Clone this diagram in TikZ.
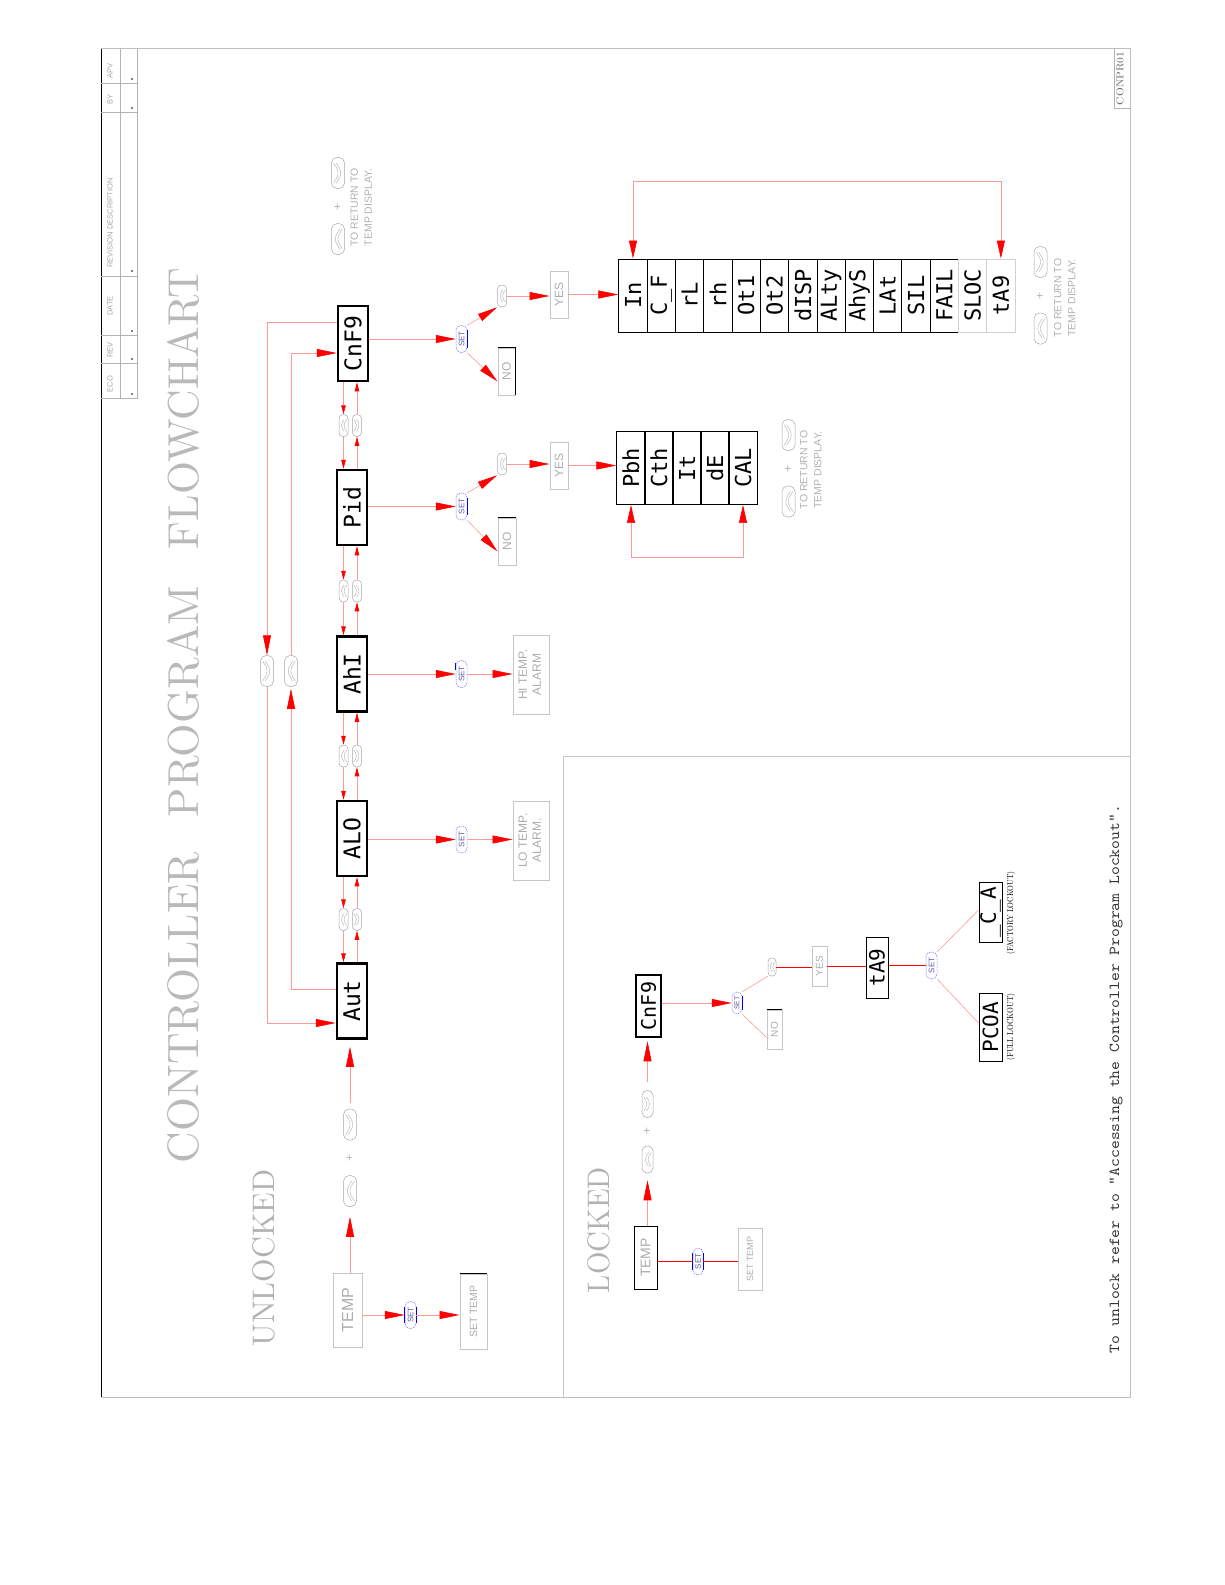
\documentclass[tikz,border=0pt]{standalone}
\usepackage{fontspec}
\usepackage{graphicx}
\usetikzlibrary{arrows.meta}
\newfontfamily\segfont{DejaVu Sans Mono}
\newfontfamily\labfont{Liberation Sans}
\newfontfamily\ttfoot{Latin Modern Mono}
\newcommand\rtxt[1]{\rotatebox{90}{#1}}
\newcommand\rtwo[2]{\rotatebox{90}{\begin{tabular}{@{}c@{}}#1\\#2\end{tabular}}}
\tikzset{
 conn/.style={draw=red!40, line width=0.6pt},
 connS/.style={draw=red, line width=0.8pt},
 arrB/.style={-{Triangle[length=20pt,width=8pt,color=red]}},
 arrBB/.style={{Triangle[length=18pt,width=8pt,color=red]}-{Triangle[length=18pt,width=8pt,color=red]}},
 arrS/.style={-{Triangle[length=9pt,width=4.5pt,color=red]}},
 disp/.style={draw=black, line width=2.5pt, inner sep=0pt, minimum width=30pt, minimum height=75pt, font=\segfont\fontsize{23}{23}\selectfont},
 cell/.style={draw=black, line width=0.9pt, inner sep=0pt, minimum width=28.3pt, minimum height=73pt, font=\segfont\fontsize{22}{22}\selectfont},
 gbox/.style={draw=gray!45, line width=0.9pt, inner sep=0pt, text=gray!65, font=\labfont\fontsize{12}{14}\selectfont},
 btn/.style={draw=gray!70, line width=0.5pt, rounded corners=4pt, inner sep=0pt, minimum width=9pt, minimum height=22pt},
 btnBig/.style={btn, minimum width=13pt, minimum height=31pt, rounded corners=5.5pt},
 setb/.style={draw=blue!55, dash pattern=on 1.2pt off 0.8pt, line width=0.5pt, rounded corners=5pt, inner sep=0pt, minimum width=11pt, minimum height=27pt, text=blue!30!gray, font=\labfont\fontsize{8}{8}\selectfont},
 chevL/.style n args={2}{path picture={\foreach \cho in {-1.3,1.3}{\draw[gray!70,line width=0.35pt] ([xshift=\cho pt+#2,yshift=#1]path picture bounding box.center) -- ([xshift=\cho pt-#2]path picture bounding box.center) -- ([xshift=\cho pt+#2,yshift=-#1]path picture bounding box.center);}}},
 chevR/.style n args={2}{path picture={\foreach \cho in {-1.3,1.3}{\draw[gray!70,line width=0.35pt] ([xshift=\cho pt-#2,yshift=#1]path picture bounding box.center) -- ([xshift=\cho pt+#2]path picture bounding box.center) -- ([xshift=\cho pt-#2,yshift=-#1]path picture bounding box.center);}}},
 rettext/.style={inner sep=0pt, text=gray!60, font=\labfont\fontsize{10.5}{14}\selectfont},
 plus/.style={inner sep=0pt, text=gray!60, font=\labfont\fontsize{12}{12}\selectfont},
 tblab/.style={inner sep=0pt, text=gray!70, font=\labfont\fontsize{7.5}{7.5}\selectfont},
}
\begin{document}
\begin{tikzpicture}[x=1pt,y=-1pt]
\useasboundingbox (0,0) rectangle (1225,1585);
% frame
\draw[gray!50, line width=0.7pt] (101,48.5) rectangle (1130,1397);
\draw[black, line width=0.9pt] (101,48.5) -- (101,1397);
\draw[gray!45, line width=0.7pt] (1130,756) -- (563,756) -- (563,1397);
% title block
\draw[gray!60, line width=0.5pt] (120,48.5) -- (120,398);
\draw[gray!60, line width=0.5pt] (137,48.5) -- (137,398) -- (101,398);
\foreach \y in {83,112,276,335,363} \draw[gray!60, line width=0.5pt] (101,\y) -- (137,\y);
\foreach \t/\y [count=\i] in {APV/71, BY/99, REVISION DESCRIPTION/223, DATE/306, REV/350, ECO/384}
  \node[tblab] (tb\i) at (110,\y) {\rtxt{\t}};
\foreach \y in {79,108,271,331,359,394} \fill (132,\y) circle (0.8);
% drawing number
\draw[gray!60, line width=0.5pt] (1114,48.5) -- (1114,108) -- (1130,108);
\node[inner sep=0pt, text=gray!80!black] (dwg) at (1120,78.5) {\rtxt{\resizebox{53pt}{7pt}{CONPR01}}};
% titles
\node[inner sep=0pt, text=gray!55] (t1) at (183,1007.5) {\rtxt{\resizebox{311pt}{31pt}{CONTROLLER}}};
\node[inner sep=0pt, text=gray!55] (t2) at (183,701.5) {\rtxt{\resizebox{231pt}{31pt}{PROGRAM}}};
\node[inner sep=0pt, text=gray!55] (t3) at (183,408.5) {\rtxt{\resizebox{281pt}{31pt}{FLOWCHART}}};
\node[inner sep=0pt, text=gray!60] (unl) at (264,1258) {\rtxt{\resizebox{177pt}{22pt}{UNLOCKED}}};
\node[inner sep=0pt, text=gray!60] (lck) at (599,1230) {\rtxt{\resizebox{126pt}{22pt}{LOCKED}}};
\node[inner sep=0pt, text=black!80] (foot) at (1116,1079) {\rtxt{\resizebox{548pt}{9.5pt}{\ttfoot To unlock refer to "Accessing the Controller Program Lockout".}}};

% ===== UNLOCKED =====
\node[gbox, minimum width=29pt, minimum height=74pt, font=\labfont\fontsize{16}{16}\selectfont] (tempU) at (347.5,1310) {\rtxt{TEMP}};
\node[setb] (setU) at (410.5,1315) {\rtxt{SET}};
\node[gbox, minimum width=27pt, minimum height=75pt, font=\labfont\fontsize{10.5}{10.5}\selectfont] (settU) at (473.5,1311.5) {\rtxt{SET TEMP}};
\draw[black, line width=0.9pt] (settU.north west) -- (settU.north east);
\draw[blue, line width=0.8pt] ([yshift=-6pt]setU.north west) -- ([yshift=6pt]setU.south west);
\draw[blue, line width=0.8pt] ([yshift=-6pt]setU.north east) -- ([yshift=6pt]setU.south east);
\draw[conn,arrB] (tempU.east |- setU.west) -- (setU.west);
\draw[conn,arrB] (setU.east) -- (settU.west |- setU.east);

\node[btnBig, chevL={10pt}{3pt}] (upU) at (350,1191) {};
\node[plus] (plusU) at (350,1158) {\rtxt{+}};
\node[btnBig, chevR={10pt}{3pt}] (dnU) at (350,1124.5) {};
\draw[conn,arrB,shorten >=10pt] (upU |- tempU.north) -- (upU.south);

\node[disp] (aut) at (352,1001) {\rtxt{Aut}};
\node[disp] (alo) at (352,838.5) {\rtxt{ALO}};
\node[disp] (ahi) at (352,674) {\rtxt{AhI}};
\node[disp] (pid) at (352,507.5) {\rtxt{Pid}};
\node[disp] (cnf) at (353,343.5) {\rtxt{CnF9}};
\draw[conn,arrB,shorten <=6pt,shorten >=7pt] (dnU.north) -- (dnU |- aut.south);

\foreach \u/\l/\m/\i in {cnf/pid/425.5/1, pid/ahi/591/2, ahi/alo/756/3, alo/aut/919.5/4} {
  \node[btn, chevL={6pt}{2pt}] (cbL\i) at (343.5,\m) {};
  \node[btn, chevR={6pt}{2pt}] (cbR\i) at (357,\m) {};
  \draw[conn,arrS] (\u.south -| cbL\i) -- (cbL\i.north);
  \draw[conn,arrS] (cbL\i.south) -- (\l.north -| cbL\i);
  \draw[conn,arrS] (\l.north -| cbR\i) -- (cbR\i.south);
  \draw[conn,arrS] (cbR\i.north) -- (\u.south -| cbR\i);
}

% loop back
\node[btnBig, chevR={10pt}{3pt}] (lbA) at (267,671) {};
\node[btnBig, chevL={10pt}{3pt}] (lbB) at (291,671) {};
\draw[conn,arrB] ([yshift=21.5pt]cnf.west) -| (lbA.north);
\draw[conn,arrB] (lbA.south) |- ([yshift=-22pt]aut.west);
\draw[conn,arrB,shorten >=2pt] ([yshift=12pt]aut.west) -| (lbB.south);
\draw[conn,arrB] (lbB.north) |- ([yshift=-9.5pt]cnf.west);

% alarms
\node[setb] (setAlo) at (461.5,839.5) {\rtxt{SET}};
\node[setb] (setAhi) at (461.5,674) {\rtxt{SET}};
\draw[blue, line width=0.8pt] ([yshift=-3pt]setAhi.north west) -- ([yshift=-10pt]setAhi.north west);
\node[gbox, minimum width=36pt, minimum height=79pt] (loA) at (531,840.5) {\rtwo{LO TEMP.}{ALARM.}};
\node[gbox, minimum width=36pt, minimum height=79pt] (hiA) at (531,674.5) {\rtwo{HI TEMP.}{ALARM}};
\draw[conn,arrB] (alo.east |- setAlo.west) -- (setAlo.west);
\draw[conn,arrB] (setAlo.east) -- (loA.west |- setAlo.east);
\draw[conn,arrB] (ahi.east |- setAhi.west) -- (setAhi.west);
\draw[conn,arrB] (setAhi.east) -- (hiA.west |- setAhi.east);

% Pid branch
\node[setb] (setPid) at (461.5,506.5) {\rtxt{SET}};
\draw[blue, line width=0.8pt] ([yshift=-5pt]setPid.north east) -- ([yshift=5pt]setPid.south east);
\node[btn, chevL={6pt}{2pt}] (pbtn) at (502,464) {};
\node[gbox, minimum width=18pt, minimum height=47pt] (pno) at (507,541.5) {\rtxt{NO}};
\draw[black, line width=0.9pt] (pno.north west) -- (pno.north east);
\node[gbox, minimum width=18pt, minimum height=47pt] (pyes) at (559,465.5) {\rtxt{YES}};
\draw[conn,arrB] (pid.east |- setPid.west) -- (setPid.west);
\draw[conn,arrB] (setPid.north east) -- (pbtn.south west);
\draw[conn,arrB] (setPid.south east) -- ([yshift=-10pt]pno.west);
\draw[conn,arrB] (pbtn.east) -- (pyes.west |- pbtn.east);
\foreach \t [count=\i] in {Pbh,Cth,It,dE,CAL}
  \node[cell] (pc\i) at ({631+28*(\i-1)},468) {\rtxt{\t}};
\draw[conn,arrB] (pyes.east) -- (pc1.west |- pyes.east);
\draw[conn,arrBB] (pc1.south) -- ++(0,52) -| (pc5.south);
\node[btnBig, chevR={10pt}{3pt}] (r2d) at (788.5,435) {};
\node[plus] (r2p) at (788.5,469) {\rtxt{+}};
\node[btnBig, chevL={10pt}{3pt}] (r2u) at (788.5,501.5) {};
\node[rettext] (r2t) at (811.5,470) {\rtwo{TO RETURN TO}{TEMP DISPLAY.}};

% CnF9 branch
\node[setb] (setCnf) at (461.5,339) {\rtxt{SET}};
\draw[blue, line width=0.8pt] ([yshift=-5pt]setCnf.north east) -- ([yshift=5pt]setCnf.south east);
\node[btn, chevL={6pt}{2pt}] (cbtn) at (502,296) {};
\node[gbox, minimum width=17pt, minimum height=47pt] (cno) at (506.5,371.5) {\rtxt{NO}};
\draw[black, line width=0.9pt] (cno.north west) -- (cno.north east) -- (cno.south east);
\node[gbox, minimum width=18pt, minimum height=47pt] (cyes) at (559,294.5) {\rtxt{YES}};
\draw[conn,arrB] (cnf.east |- setCnf.west) -- (setCnf.west);
\draw[conn,arrB] (setCnf.north east) -- (cbtn.south west);
\draw[conn,arrB] (setCnf.south east) -- ([yshift=-10pt]cno.west);
\draw[conn,arrB] (cbtn.east) -- (cyes.west |- cbtn.east);
\foreach \t [count=\i] in {In,C\_F,rL,rh,Ot1,Ot2,dISP,ALty,AhyS,LAt,SIL,FAIL}
  \node[cell] (cc\i) at ({633+28.3*(\i-1)},295.5) {\rtxt{\t}};
\node[cell, draw=gray!35] (cc13) at (972.6,295.5) {\rtxt{SLOC}};
\node[cell, draw=gray!35] (cc14) at (1000.9,295.5) {\rtxt{tA9}};
\draw[conn,arrB] (cyes.east) -- (cc1.west |- cyes.east);
\draw[conn,arrBB] (cc1.north) -- ++(0,-77) -| (cc14.north);
\node[btnBig, chevR={10pt}{3pt}] (r3d) at (1040.5,262) {};
\node[plus] (r3p) at (1040.5,296) {\rtxt{+}};
\node[btnBig, chevL={10pt}{3pt}] (r3u) at (1040.5,328.5) {};
\node[rettext] (r3t) at (1065.5,298) {\rtwo{TO RETURN TO}{TEMP DISPLAY.}};

% top return note
\node[btnBig, chevR={10pt}{3pt}] (r1d) at (338,173) {};
\node[plus] (r1p) at (338,207) {\rtxt{+}};
\node[btnBig, chevL={10pt}{3pt}] (r1u) at (338,239) {};
\node[rettext] (r1t) at (362,207.5) {\rtwo{TO RETURN TO}{TEMP DISPLAY.}};

% ===== LOCKED =====
\node[gbox, draw=black, minimum width=23pt, minimum height=63pt, font=\labfont\fontsize{14}{14}\selectfont] (tempL) at (645.5,1257.5) {\rtxt{TEMP}};
\node[setb, minimum width=10pt, minimum height=27pt] (setL1) at (698,1261.5) {\rtxt{SET}};
\draw[blue, line width=0.8pt] ([yshift=-5pt]setL1.north west) -- ([yshift=5pt]setL1.south west);
\draw[blue, line width=0.8pt] ([yshift=-5pt]setL1.north east) -- ([yshift=5pt]setL1.south east);
\node[gbox, minimum width=24pt, minimum height=62pt, font=\labfont\fontsize{9}{9}\selectfont] (settL) at (750,1259) {\rtxt{SET TEMP}};
\draw[connS] (tempL.east |- setL1.west) -- (setL1.west);
\draw[connS] (setL1.east) -- (settL.west |- setL1.east);
\node[btn, minimum width=11pt, minimum height=27pt, rounded corners=5pt, chevL={7pt}{2.5pt}] (upL) at (647.5,1159.5) {};
\node[plus] (plusL) at (647.5,1131) {\rtxt{+}};
\node[btn, minimum width=11pt, minimum height=27pt, rounded corners=5pt, chevR={7pt}{2.5pt}] (dnL) at (647.5,1104) {};
\draw[conn,arrB,shorten >=7pt] (upL |- tempL.north) -- (upL.south);
\node[disp, minimum width=25pt, minimum height=62pt, font=\segfont\fontsize{20}{20}\selectfont] (cnfL) at (648.5,1006) {\rtxt{CnF9}};
\draw[conn,arrB,shorten <=8pt,shorten >=3pt] (dnL.north) -- (dnL |- cnfL.south);
\node[setb, minimum width=10pt, minimum height=22pt, font=\labfont\fontsize{7}{7}\selectfont] (setL2) at (737,1003) {\rtxt{SET}};
\draw[blue, line width=0.8pt] ([yshift=-4pt]setL2.north east) -- ([yshift=4pt]setL2.south east);
\draw[conn,arrB] (cnfL.east |- setL2.west) -- (setL2.west);
\node[btn, minimum width=8pt, minimum height=18pt, rounded corners=3.5pt, chevL={5pt}{1.6pt}] (btnL) at (772,967) {};
\node[gbox, minimum width=15pt, minimum height=39pt, font=\labfont\fontsize{10}{10}\selectfont] (noL) at (774.5,1029.5) {\rtxt{NO}};
\draw[black, line width=0.9pt] (noL.north west) -- (noL.north east);
\draw[conn] (setL2.north east) -- (btnL.south west);
\draw[conn] (setL2.south east) -- ([yshift=-8pt]noL.west);
\node[gbox, minimum width=15pt, minimum height=40pt, font=\labfont\fontsize{10}{10}\selectfont] (yesL) at (819.5,966) {\rtxt{YES}};
\draw[connS] (btnL.east) -- (yesL.west |- btnL.east);
\node[disp, line width=1pt, minimum width=22pt, minimum height=61pt, font=\segfont\fontsize{21}{21}\selectfont] (tagL) at (877,967.5) {\rtxt{tA9}};
\draw[connS] (yesL.east) -- (tagL.west |- yesL.east);
\node[setb, minimum width=11pt, minimum height=27pt] (setL3) at (931.5,965.5) {\rtxt{SET}};
\draw[connS] (tagL.east |- setL3.west) -- (setL3.west);
\node[disp, line width=1pt, minimum width=23pt, minimum height=60pt, font=\segfont\fontsize{21}{21}\selectfont] (caL) at (990.5,912) {\rtxt{\_C\_A}};
\node[disp, line width=1pt, minimum width=23pt, minimum height=68pt, font=\segfont\fontsize{21}{21}\selectfont] (pcoaL) at (990.5,1027) {\rtxt{PCOA}};
\draw[conn] (setL3.north east) -- ([yshift=2pt]caL.west);
\draw[conn] (setL3.south east) -- ([yshift=4pt]pcoaL.west);
\node[inner sep=0pt] (fullL) at (1011,1027) {\rtxt{\resizebox{67pt}{6.5pt}{(FULL LOCKOUT)}}};
\node[inner sep=0pt] (factL) at (1011,913) {\rtxt{\resizebox{83pt}{6.5pt}{(FACTORY LOCKOUT)}}};
\end{tikzpicture}
\end{document}
